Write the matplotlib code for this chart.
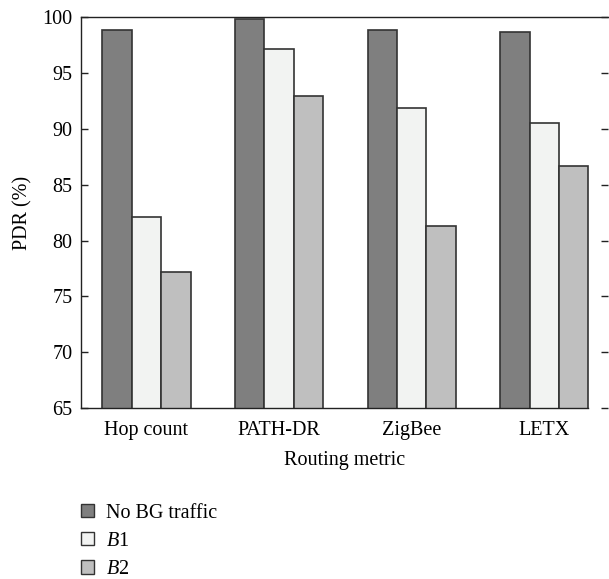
import matplotlib
matplotlib.use("Agg")
import matplotlib.pyplot as plt
import numpy as np
from matplotlib.patches import Patch

plt.rcParams['font.family'] = ['Liberation Serif', 'DejaVu Serif']
plt.rcParams['mathtext.fontset'] = 'custom'
plt.rcParams['mathtext.rm'] = 'Liberation Serif'
plt.rcParams['mathtext.it'] = 'Liberation Serif:italic'

categories = ["Hop count", "PATH-DR", "ZigBee", "LETX"]
no_bg = [98.9, 99.9, 98.9, 98.7]
b1 = [82.1, 97.2, 91.9, 90.5]
b2 = [77.2, 93.0, 81.3, 86.7]
series_labels = ["No BG traffic", "$B$1", "$B$2"]
colors = ["#7f7f7f", "#f2f3f2", "#bfbfbf"]
yticks = [65, 70, 75, 80, 85, 90, 95, 100]

FS = 14.5

fig = plt.figure(figsize=(6.09, 5.79), dpi=100)
ax = fig.add_axes([0.133, 0.2953, 0.865, 0.6745])

x = np.arange(len(categories))
w = 0.222
edge = "#333333"
for i, (vals, col, lab) in enumerate(zip([no_bg, b1, b2], colors, series_labels)):
    ax.bar(x + (i - 1) * w, vals, width=w, color=col, edgecolor=edge,
           linewidth=1.2, label=lab, zorder=2)

ax.set_xlim(-0.494, 3.479)
ax.set_ylim(65, 100)
ax.set_yticks(yticks)
ax.set_xticks(x)
ax.set_xticklabels(categories)
ax.tick_params(axis='y', direction='in', length=5, width=1, labelsize=FS,
               right=True, left=True, color='#222222', pad=6)
ax.tick_params(axis='x', length=0, labelsize=FS, pad=9)
ax.spines['right'].set_visible(False)
ax.spines['bottom'].set_bounds(-0.494, 3 + 1.5 * w)
for s in ['left', 'top', 'bottom']:
    ax.spines[s].set_linewidth(1.0)
    ax.spines[s].set_color('#222222')

ax.set_xlabel("Routing metric", fontsize=FS, labelpad=8)
ax.set_ylabel("PDR (%)", fontsize=FS, labelpad=7)

handles = [Patch(facecolor=c, edgecolor=edge, linewidth=1.0) for c in colors]
fig.legend(handles, series_labels, loc='upper left', bbox_to_anchor=(0.1325, 0.130),
           frameon=False, fontsize=FS, handlelength=0.65, handleheight=0.65,
           handletextpad=0.63, labelspacing=0.45, borderaxespad=0, borderpad=0)

fig.savefig("out.png", dpi=100)
